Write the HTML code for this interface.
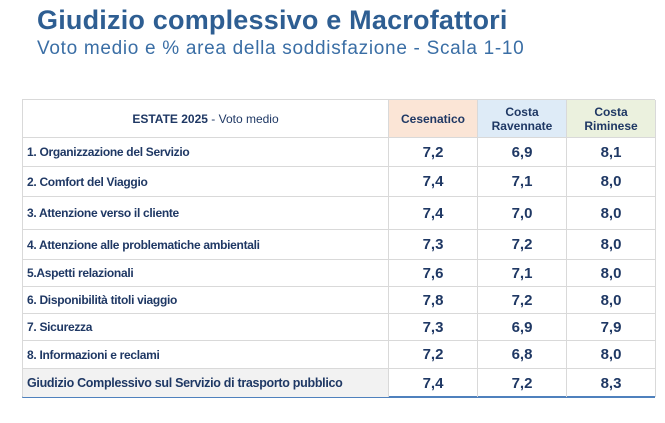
<!DOCTYPE html>
<html><head><meta charset="utf-8"><style>
body{margin:0;width:665px;height:423px;background:#fff;font-family:"Liberation Sans",sans-serif;position:relative;overflow:hidden;color:#1f3864}
.t{position:absolute;white-space:nowrap}
.cell{position:absolute;display:flex;align-items:center;box-sizing:border-box;border-bottom:1px solid #d9d9d9;border-right:1px solid #d9d9d9}
.lab{padding-left:4px;font-size:12px;font-weight:bold;letter-spacing:-0.3px}
.num{justify-content:center;font-size:15px;font-weight:bold}
.hd{justify-content:center;text-align:center;font-size:12px;font-weight:bold;line-height:14px}
</style></head><body>
<div class="t" style="left:37px;top:5px;font-size:27px;font-weight:bold;color:#2e5e92;letter-spacing:0.2px">Giudizio complessivo e Macrofattori</div>
<div class="t" style="left:37px;top:38px;font-size:19px;color:#3a6ea5;letter-spacing:0.7px">Voto medio e % area della soddisfazione - Scala 1-10</div>
<div id="tbl" style="position:absolute;left:22px;top:99px;width:633px;height:299px;border-top:1px solid #d9d9d9;border-left:1px solid #d9d9d9;border-bottom:2px solid #4f81bd;box-sizing:border-box"></div>
<script>
const labels=["1. Organizzazione  del Servizio","2. Comfort del Viaggio","3. Attenzione verso il cliente","4. Attenzione alle problematiche ambientali","5.Aspetti relazionali","6. Disponibilità titoli viaggio","7. Sicurezza","8. Informazioni e reclami","Giudizio Complessivo sul Servizio di trasporto pubblico"];
const cesenatico=["7,2","7,4","7,4","7,3","7,6","7,8","7,3","7,2","7,4"];
const ravennate=["6,9","7,1","7,0","7,2","7,1","7,2","6,9","6,8","7,2"];
const riminese=["8,1","8,0","8,0","8,0","8,0","8,0","7,9","8,0","8,3"];
const tbl=document.getElementById('tbl');
const rowB=[0,38,67,97,130,160,187,214,241,269,297];
const colX=[0,366,455,544,633];
function mk(x,y,w,h,cls,html,bg){const d=document.createElement('div');d.className='cell '+cls;d.style.left=x+'px';d.style.top=y+'px';d.style.width=w+'px';d.style.height=h+'px';if(bg)d.style.background=bg;d.innerHTML=html;tbl.appendChild(d);return d;}
let h=mk(0,0,366,38,'hd','<span>ESTATE 2025 <span style="font-weight:normal">- Voto medio</span></span>');


const heads=[["Cesenatico","#fbe5d6"],["Costa<br>Ravennate","#deebf7"],["Costa<br>Riminese","#ebf1de"]];
heads.forEach((c,i)=>{const d=mk(colX[i+1],0,89,38,'hd',c[0],c[1]);

});
labels.forEach((l,r)=>{const y=rowB[r+1],hh=rowB[r+2]-y;const last=r===labels.length-1;
const a=mk(0,y,366,hh,'lab',l,last?'#f2f2f2':null);


if(last){a.style.fontSize='12.5px';a.style.borderBottom='none';}
[cesenatico,ravennate,riminese].forEach((s,i)=>{const d=mk(colX[i+1],y,89,hh,'num',s[r]);


if(last)d.style.borderBottom='none';});});
</script>
</body></html>
